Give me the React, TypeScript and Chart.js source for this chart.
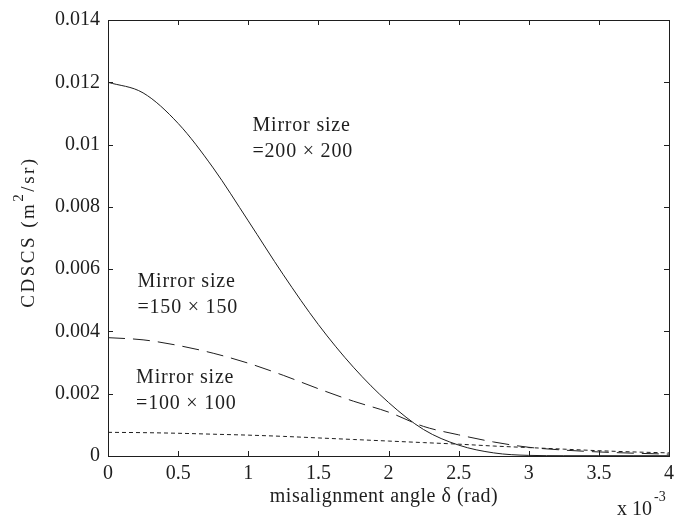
import React, { useEffect, useRef } from "react";
import { Chart, registerables } from "chart.js";

Chart.register(...registerables);

// misalignment angle (x 10^-3 rad)
const angles = [0, 0.25, 0.5, 0.75, 1, 1.25, 1.5, 1.75, 2, 2.25, 2.5, 2.75, 3, 3.25, 3.5, 3.75, 4];
// CDSCS (m^2/sr)
const size200 = [0.012, 0.01166, 0.01068, 0.00925, 0.00755, 0.00582, 0.00422, 0.00285, 0.00172, 0.00085, 0.00035, 0.0001, 0.00002, 0.00001, 0.00001, 0.00001, 0.00001];
const size150 = [0.0038, 0.00373, 0.00355, 0.0033, 0.00298, 0.00259, 0.00216, 0.00176, 0.00141, 0.00095, 0.00068, 0.00045, 0.00028, 0.00019, 0.00013, 0.00009, 0.00006];
const size100 = [0.00076, 0.00075, 0.00073, 0.0007, 0.00067, 0.00063, 0.00058, 0.00053, 0.00048, 0.00043, 0.00038, 0.00032, 0.00027, 0.00022, 0.00017, 0.00013, 0.0001];

const xTickValues = [0, 0.5, 1, 1.5, 2, 2.5, 3, 3.5, 4];
const xTickLabels = ["0", "0.5", "1", "1.5", "2", "2.5", "3", "3.5", "4"];
const yTickValues = [0, 0.002, 0.004, 0.006, 0.008, 0.01, 0.012, 0.014];
const yTickLabels = ["0", "0.002", "0.004", "0.006", "0.008", "0.01", "0.012", "0.014"];

const annotations = [
  { x: 1.03, y: 0.0106, lines: ["Mirror size", "=200 \u00d7 200"] },
  { x: 0.21, y: 0.0056, lines: ["Mirror size", "=150 \u00d7 150"] },
  { x: 0.2, y: 0.0025, lines: ["Mirror size", "=100 \u00d7 100"] },
];

const FONT = "'Liberation Serif', 'Times New Roman', serif";
const INK = "#1e1e1e";

const decorPlugin = {
  id: "decor",
  afterDraw(chart: any) {
    const { ctx, chartArea } = chart;
    const xs = chart.scales.x;
    const ys = chart.scales.y;
    const { left, right, top, bottom } = chartArea;
    ctx.save();
    ctx.strokeStyle = INK;
    ctx.lineWidth = 1;
    ctx.setLineDash([]);
    // box
    ctx.strokeRect(Math.round(left) + 0.5, Math.round(top) + 0.5, Math.round(right - left), Math.round(bottom - top));
    // inward ticks
    const tl = 5;
    ctx.beginPath();
    xTickValues.forEach((v) => {
      const px = Math.round(xs.getPixelForValue(v)) + 0.5;
      ctx.moveTo(px, bottom);
      ctx.lineTo(px, bottom - tl);
      ctx.moveTo(px, top);
      ctx.lineTo(px, top + tl);
    });
    yTickValues.forEach((v) => {
      const py = Math.round(ys.getPixelForValue(v)) + 0.5;
      ctx.moveTo(left, py);
      ctx.lineTo(left + tl, py);
      ctx.moveTo(right, py);
      ctx.lineTo(right - tl, py);
    });
    ctx.stroke();

    ctx.fillStyle = INK;
    ctx.textBaseline = "middle";
    ctx.textAlign = "left";
    ctx.font = `20px ${FONT}`;
    (ctx as any).letterSpacing = "0.8px";
    annotations.forEach((a) => {
      const px = xs.getPixelForValue(a.x);
      const py = ys.getPixelForValue(a.y);
      a.lines.forEach((t, i) => ctx.fillText(t, px, py + i * 26));
    });

    // x axis title
    (ctx as any).letterSpacing = "0.5px";
    ctx.textAlign = "center";
    ctx.fillText("misalignment angle \u03b4 (rad)", 384, 497);

    // x 10^-3
    (ctx as any).letterSpacing = "0px";
    ctx.textAlign = "left";
    ctx.fillText("x 10", 617, 510);
    ctx.font = `14px ${FONT}`;
    ctx.fillText("-3", 654, 497);

    // y axis title
    ctx.save();
    ctx.translate(29, 232);
    ctx.rotate(-Math.PI / 2);
    (ctx as any).letterSpacing = "2.5px";
    const p1 = "CDSCS (m";
    const p3 = "/sr)";
    ctx.font = `19px ${FONT}`;
    const w1 = ctx.measureText(p1).width;
    const w3 = ctx.measureText(p3).width;
    ctx.font = `15px ${FONT}`;
    const w2 = ctx.measureText("2").width;
    const total = w1 + w2 + w3;
    let cx = -total / 2;
    ctx.textAlign = "left";
    ctx.font = `19px ${FONT}`;
    ctx.fillText(p1, cx, 0);
    cx += w1;
    ctx.font = `15px ${FONT}`;
    ctx.fillText("2", cx, -10);
    cx += w2;
    ctx.font = `19px ${FONT}`;
    ctx.fillText(p3, cx, 0);
    ctx.restore();

    ctx.restore();
  },
};

export default function App() {
  const ref = useRef<HTMLCanvasElement | null>(null);
  useEffect(() => {
    if (!ref.current) return;
    const mk = (vals: number[]) => angles.map((x, i) => ({ x, y: vals[i] }));
    const common = {
      borderColor: INK,
      borderWidth: 1,
      pointRadius: 0,
      fill: false,
      cubicInterpolationMode: "monotone" as const,
    };
    const chart = new Chart(ref.current, {
      type: "line",
      data: {
        datasets: [
          { label: "200x200", data: mk(size200), ...common },
          { label: "150x150", data: mk(size150), ...common, borderDash: [17, 8] },
          { label: "100x100", data: mk(size100), ...common, borderDash: [4, 3] },
        ],
      },
      options: {
        animation: false,
        responsive: false,
        layout: { padding: { top: 13, right: 19, left: 0, bottom: 0 } },
        plugins: { legend: { display: false }, tooltip: { enabled: false } },
        scales: {
          x: {
            type: "linear",
            min: 0,
            max: 4,
            afterBuildTicks: (s: any) => {
              s.ticks = xTickValues.map((v) => ({ value: v }));
            },
            afterFit: (s: any) => {
              s.height = 64;
            },
            grid: { display: false, drawTicks: false },
            border: { display: false },
            ticks: {
              padding: 6,
              color: INK,
              font: { family: FONT, size: 20 },
              maxRotation: 0,
              callback: (_v: any, i: number) => xTickLabels[i],
            },
          },
          y: {
            type: "linear",
            min: 0,
            max: 0.014,
            afterBuildTicks: (s: any) => {
              s.ticks = yTickValues.map((v) => ({ value: v }));
            },
            afterFit: (s: any) => {
              s.width = 108;
            },
            grid: { display: false, drawTicks: false },
            border: { display: false },
            ticks: {
              padding: 8,
              color: INK,
              font: { family: FONT, size: 20 },
              callback: (_v: any, i: number) => yTickLabels[i],
            },
          },
        },
      },
      plugins: [decorPlugin],
    });
    return () => chart.destroy();
  }, []);
  return (
    <div style={{ position: "absolute", left: 0, top: 0, width: 688, height: 520, background: "#fff" }}>
      <canvas ref={ref} width={688} height={520} style={{ display: "block" }} />
    </div>
  );
}
